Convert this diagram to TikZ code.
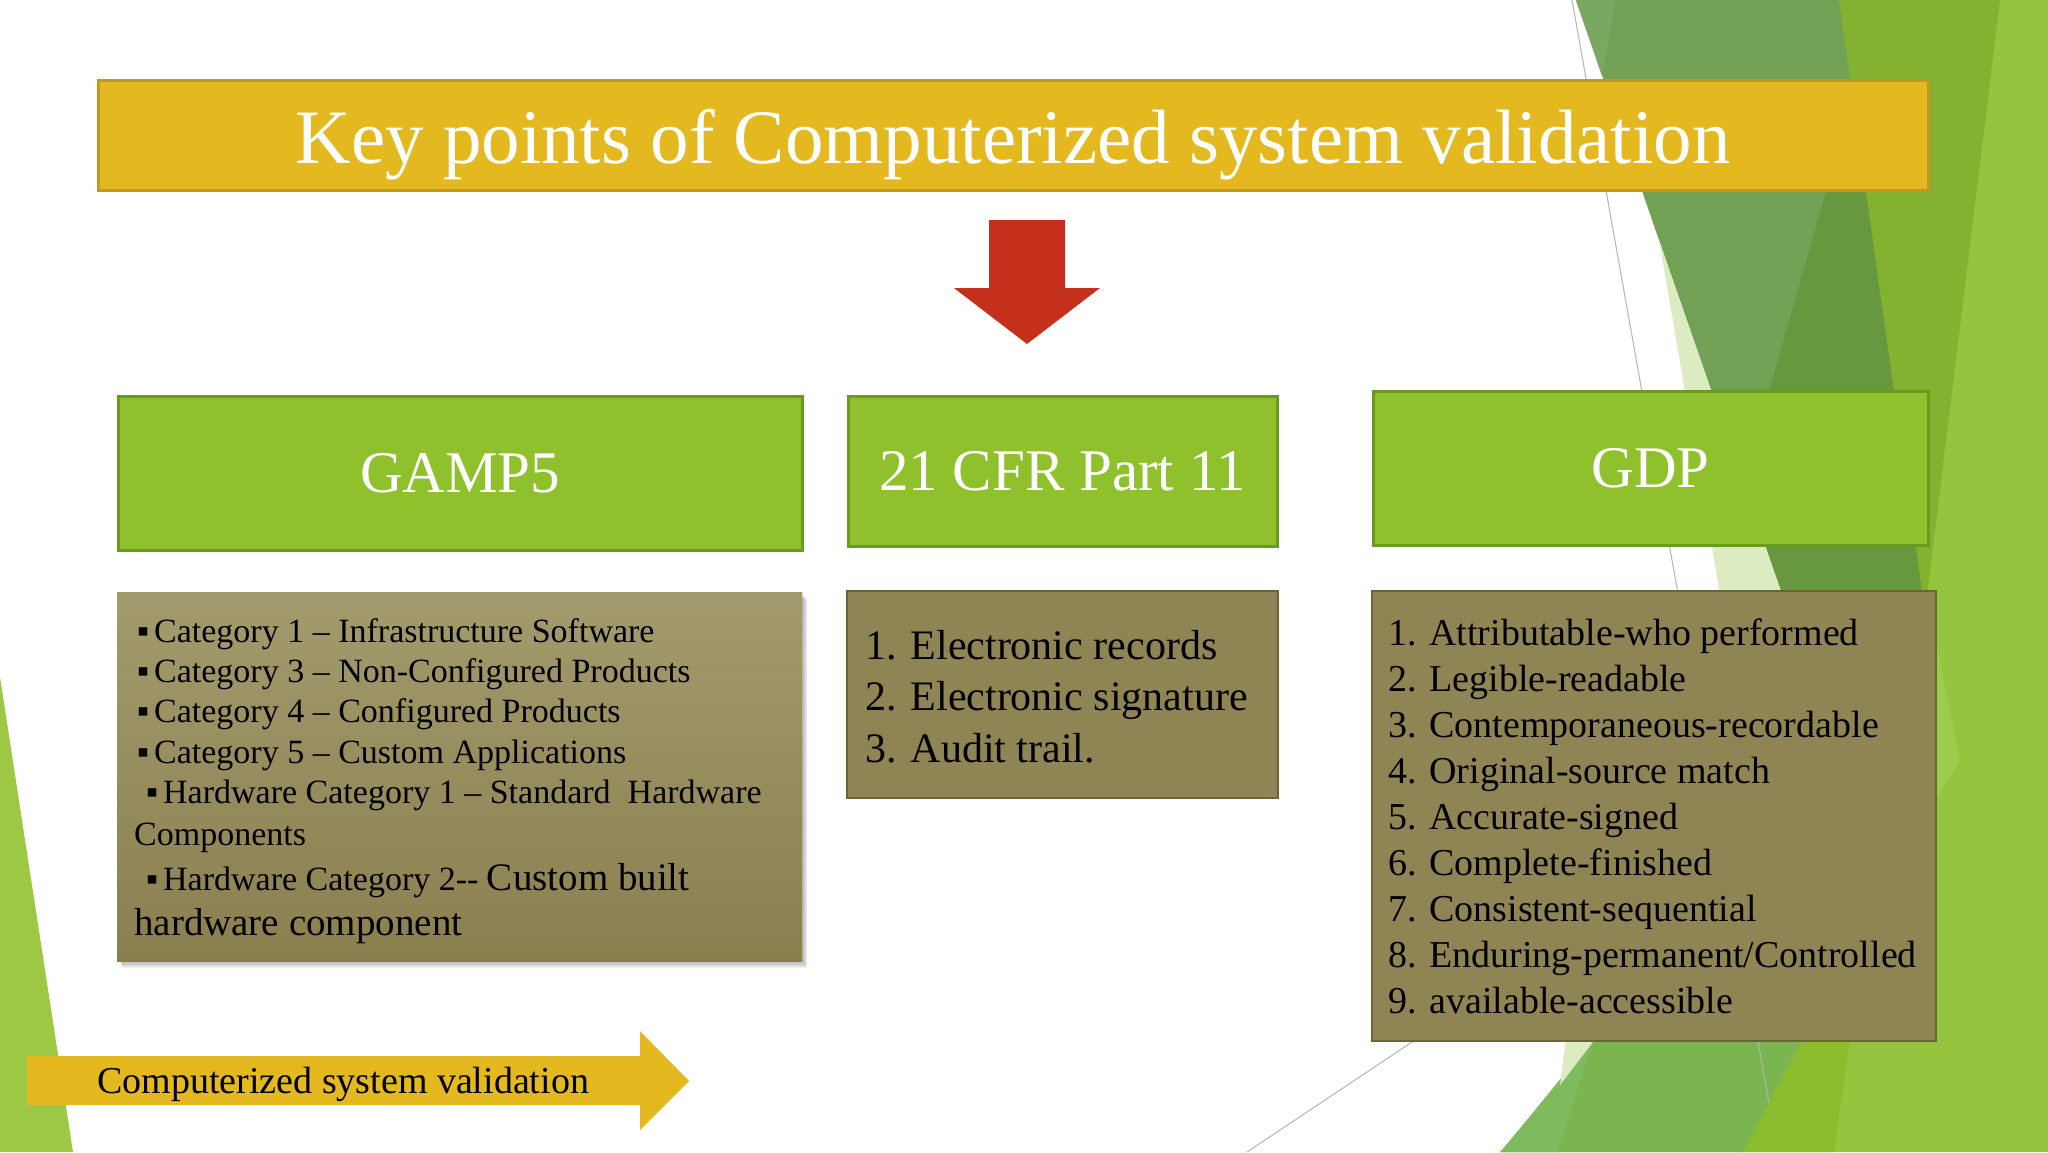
\documentclass[tikz,border=0pt]{standalone}
\usepackage{fontspec}
\setmainfont{Liberation Serif}
\definecolor{titlefill}{HTML}{E4B81F}
\definecolor{titleline}{HTML}{BF9A1E}
\definecolor{hdrfill}{HTML}{8EC12B}
\definecolor{hdrline}{HTML}{6B9A21}
\definecolor{brownfill}{HTML}{8F8554}
\definecolor{brownline}{HTML}{6A6437}
\definecolor{browntop}{HTML}{A29B6D}
\definecolor{brownbot}{HTML}{8A7F4F}
\definecolor{redarrow}{HTML}{C4301C}
\definecolor{limeA}{HTML}{95C53E}
\definecolor{limeB}{HTML}{9DCB4C}
\definecolor{limeC}{HTML}{8ABD2E}
\definecolor{medgreen}{HTML}{82B22F}
\definecolor{mutedA}{HTML}{72A055}
\definecolor{mutedB}{HTML}{67983F}
\definecolor{mutedC}{HTML}{7BA860}
\definecolor{palegreen}{HTML}{DCEBC1}
\definecolor{botgreen}{HTML}{7AB54F}
\definecolor{botlight}{HTML}{80BA5E}
\definecolor{leftgreen}{HTML}{9DC843}
\definecolor{thinline}{HTML}{B4B4B4}
\begin{document}
\begin{tikzpicture}[x=1pt,y=-1pt,
  hdr/.style={draw=hdrline, line width=3pt, fill=hdrfill, text=white,
    font=\fontsize{59}{70}\selectfont, text height=39pt, text depth=0pt, inner sep=0pt},
  listbox/.style={draw=brownline, line width=2.5pt, fill=brownfill, inner sep=0pt},
  gl/.style={anchor=base west, inner sep=0pt, font=\fontsize{34}{41}\selectfont},
  cl/.style={anchor=base west, inner sep=0pt, font=\fontsize{42}{50}\selectfont},
  dl/.style={anchor=base west, inner sep=0pt, font=\fontsize{38}{46}\selectfont},
  bgline/.style={draw=thinline, line width=1pt}]
\useasboundingbox (0,0) rectangle (2048,1152);
\fill[white] (0,0) rectangle (2048,1152);
% background facets
\fill[limeA] (1576,0) -- (2048,0) -- (2048,1152) -- (1500,1152) -- (1600,1035) -- (1800,640) -- cycle;
\fill[limeB] (1918,554) -- (1960,760) -- (1936,800) -- cycle;
\fill[mutedB] (1850,0) -- (1858,0) -- (1925,612) -- (1915,640) -- (1798,640) -- (1743,483) -- cycle;
\fill[mutedA] (1576,0) -- (1839,0) -- (1853,97) -- (1743,483) -- cycle;
\fill[medgreen] (1839,0) -- (2000,0) -- (1925,612) -- cycle;
\fill[mutedC] (1576,0) -- (1616,0) -- (1602,76) -- cycle;
\fill[palegreen] (1659,240) -- (1798,640) -- (1728,640) -- cycle;
\fill[limeC] (1800,1038) -- (1850,1038) -- (1834,1152) -- (1740,1152) -- cycle;
\fill[botgreen] (1501,1152) -- (1594,1038) -- (1803,1038) -- (1743,1152) -- cycle;
\fill[botlight] (1501,1152) -- (1557,1152) -- (1594,1038) -- cycle;
\fill[palegreen] (1566,1038) -- (1596,1038) -- (1560,1085) -- cycle;
\fill[leftgreen] (0,677) -- (73,1152) -- (0,1152) -- cycle;
\draw[bgline] (1572,0) -- (1769,1103);
\draw[bgline] (1430,1030) -- (1247,1152);
% title
\node[draw=titleline, line width=3pt, fill=titlefill, text=white, inner sep=0pt,
  minimum width=1830pt, minimum height=110pt, text height=56pt, text depth=0pt,
  font=\fontsize{77}{90}\selectfont] (title) at (1013,135) {Key points of Computerized system validation};
% red arrow
\fill[redarrow] (989,220) -- (1065,220) -- (1065,288) -- (1100,288) -- (1027,344) -- (954,288) -- (989,288) -- cycle;
% headers
\node[hdr, minimum width=684pt, minimum height=154pt] (gamp) at (460,473) {GAMP5};
\node[hdr, minimum width=429pt, minimum height=150pt] (cfr) at (1062.5,471) {21 CFR Part 11};
\node[hdr, minimum width=555pt, minimum height=154pt] (gdp) at (1650.5,468) {GDP};
% GAMP list box with soft shadow
\foreach \k in {1,...,6}{
  \fill[black, opacity=0.05] ({117+\k*0.9},{592+\k*1.2}) rectangle ({802+\k*0.9},{961+\k*1.2});
}
\node[inner sep=0pt, top color=browntop, bottom color=brownbot, draw=none,
  minimum width=685pt, minimum height=369pt] (gamplist) at (459.5,776.5) {};
\node[gl] (g1) at (137,642) {\makebox[17pt][l]{▪}Category 1 – Infrastructure Software};
\node[gl] (g2) at (137,682) {\makebox[17pt][l]{▪}Category 3 – Non-Configured Products};
\node[gl] (g3) at (137,722) {\makebox[17pt][l]{▪}Category 4 – Configured Products};
\node[gl] (g4) at (137,763) {\makebox[17pt][l]{▪}Category 5 – Custom Applications};
\node[gl] (g5) at (146,803) {\makebox[17pt][l]{▪}Hardware Category 1 – Standard\ \ Hardware};
\node[gl] (g6) at (134,845) {Components};
\node[gl] (g7) at (146,890) {\makebox[17pt][l]{▪}Hardware Category 2-{}- {\fontsize{39}{45}\selectfont Custom built}};
\node[gl, font=\fontsize{39}{45}\selectfont] (g8) at (134,935) {hardware component};
% CFR list
\node[listbox, minimum width=431pt, minimum height=207pt] (cfrlist) at (1062.5,694.5) {};
\node[cl] (c1) at (865,659) {1. Electronic records};
\node[cl] (c2) at (865,710) {2. Electronic signature};
\node[cl] (c3) at (865,762) {3. Audit trail.};
% GDP list
\node[listbox, minimum width=564pt, minimum height=450pt] (gdplist) at (1654,816) {};
\foreach \t [count=\i] in {Attributable-who performed, Legible-readable, Contemporaneous-recordable, Original-source match, Accurate-signed, Complete-finished, Consistent-sequential, Enduring-permanent/Controlled, available-accessible}{
  \node[dl] (d\i) at ({1388},{645+46*(\i-1)}) {\i. \t};
}
% bottom arrow
\fill[titlefill] (27,1056) -- (640,1056) -- (640,1031) -- (689,1081) -- (640,1130) -- (640,1105) -- (27,1105) -- cycle;
\node[anchor=base west, inner sep=0pt, font=\fontsize{38}{46}\selectfont] (csv) at (97,1093) {Computerized system validation};
\end{tikzpicture}
\end{document}
